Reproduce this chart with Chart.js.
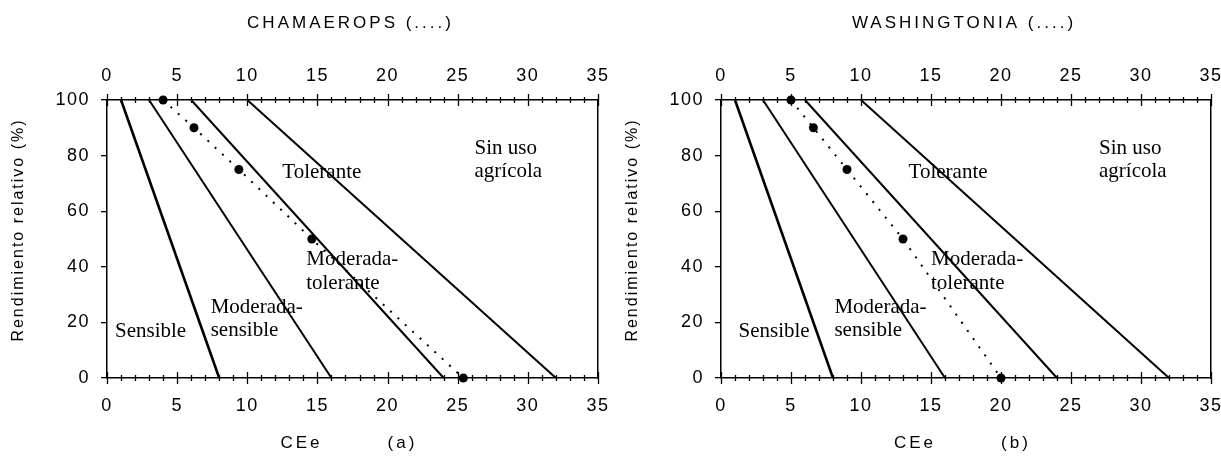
<!DOCTYPE html>
<html lang="es">
<head>
<meta charset="utf-8">
<title>Tolerancia a la salinidad</title>
<script src="https://cdn.jsdelivr.net/npm/chart.js@4.4.1/dist/chart.umd.min.js"></script>
<style>
  html, body { margin: 0; padding: 0; background: #fff; overflow: hidden; }
  .panel { position: absolute; top: 0; height: 459px; }
  #panelA { left: 0; width: 610px; }
  #panelB { left: 614px; width: 607px; }
</style>
</head>
<body>
<div class="panel" id="panelA"><canvas id="graficoA" width="610" height="459"></canvas></div>
<div class="panel" id="panelB"><canvas id="graficoB" width="607" height="459"></canvas></div>
<script>
// Rectas de Maas-Hoffman: CEe con 100 % y con 0 % de rendimiento
const clases = ['Sensible', 'Moderada-sensible', 'Moderada-tolerante', 'Tolerante'];
const ceeUmbral = [1, 3, 6, 10];
const ceeCero = [8, 16, 24, 32];

// Rendimiento relativo y CEe estimada para cada especie
const rendimiento = [100, 90, 75, 50, 0];
const ceeChamaerops = [4, 6.2, 9.4, 14.6, 25.4];
const ceeWashingtonia = [5, 6.6, 9, 13, 20];

const ticksCEe = [0, 5, 10, 15, 20, 25, 30, 35];
const ticksRend = [0, 20, 40, 60, 80, 100];

// Rótulos de cada zona (en unidades de CEe y de rendimiento)
const rotulosA = [
  { texto: ['Sensible'], x: 0.57, y: 14.9 },
  { texto: ['Moderada-', 'sensible'], x: 7.39, y: 23.5 },
  { texto: ['Moderada-', 'tolerante'], x: 14.2, y: 40.6 },
  { texto: ['Tolerante'], x: 12.5, y: 71.8 },
  { texto: ['Sin uso', 'agrícola'], x: 26.2, y: 80.6 }
];
const rotulosB = [
  { texto: ['Sensible'], x: 1.25, y: 14.9 },
  { texto: ['Moderada-', 'sensible'], x: 8.1, y: 23.5 },
  { texto: ['Moderada-', 'tolerante'], x: 15.0, y: 40.6 },
  { texto: ['Tolerante'], x: 13.4, y: 71.8 },
  { texto: ['Sin uso', 'agrícola'], x: 27.0, y: 80.6 }
];

Chart.defaults.font.family = '"Liberation Sans", Arial, sans-serif';
Chart.defaults.font.size = 18;
Chart.defaults.color = '#000';

// Marco, marcas de los ejes y textos
const marcoPlugin = {
  id: 'marco',
  beforeDraw(chart) {
    chart.ctx.letterSpacing = '1.5px';
  },
  afterDraw(chart, args, opts) {
    const { ctx, chartArea, scales } = chart;
    const xs = scales.x, ys = scales.y;
    ctx.save();
    ctx.strokeStyle = '#000';
    ctx.lineWidth = 1.3;
    for (let v = 0; v <= 35; v++) {
      const px = Math.round(xs.getPixelForValue(v)) + 0.5;
      const l = v % 5 === 0 ? 6 : 3;
      [chartArea.top, chartArea.bottom].forEach(py => {
        ctx.beginPath();
        ctx.moveTo(px, py - l);
        ctx.lineTo(px, py + l);
        ctx.stroke();
      });
    }

    // zonas de tolerancia
    ctx.letterSpacing = '0px';
    ctx.fillStyle = '#000';
    ctx.font = '21px "Liberation Serif", "Times New Roman", serif';
    ctx.textAlign = 'left';
    ctx.textBaseline = 'alphabetic';
    opts.rotulos.forEach(r => {
      const px = xs.getPixelForValue(r.x);
      const py = ys.getPixelForValue(r.y);
      r.texto.forEach((t, i) => ctx.fillText(t, px, py + i * 23.5));
    });

    // títulos
    const cx = (chartArea.left + chartArea.right) / 2;
    ctx.letterSpacing = '3px';
    ctx.font = '17px "Liberation Sans", Arial, sans-serif';
    ctx.textAlign = 'center';
    ctx.textBaseline = 'middle';
    ctx.fillText(opts.titulo, cx - 2, 23);
    ctx.fillText('CEe', cx - 51, 443);
    ctx.fillText(opts.letra, cx + 50, 443);

    ctx.letterSpacing = '2px';
    ctx.font = '16px "Liberation Sans", Arial, sans-serif';
    ctx.translate(19, 230);
    ctx.rotate(-Math.PI / 2);
    ctx.fillText('Rendimiento relativo (%)', 0, 0);
    ctx.restore();
  }
};

function ejeX(posicion, alto, separacion) {
  return {
    type: 'linear',
    position: posicion,
    min: 0,
    max: 35,
    afterBuildTicks: s => { s.ticks = ticksCEe.map(v => ({ value: v })); },
    afterFit: s => {
      s.height = alto;
      s.paddingLeft = 0;
      s.paddingRight = 0;
    },
    ticks: { padding: separacion },
    grid: { display: true, drawOnChartArea: false, drawTicks: false },
    border: { display: true, color: '#000', width: 1.5 }
  };
}

function crearGrafico(id, ceeEspecie, titulo, letra, rotulos, anchoDerecho) {
  const rectas = ceeUmbral.map((u, i) => ({
    label: clases[i],
    data: [{ x: u, y: 100 }, { x: ceeCero[i], y: 0 }],
    showLine: true,
    borderColor: '#000',
    borderWidth: i === 0 ? 2.6 : 2,
    pointRadius: 0,
    clip: false
  }));

  const especie = {
    label: titulo,
    data: ceeEspecie.map((c, i) => ({ x: c, y: rendimiento[i] })),
    showLine: true,
    borderColor: '#000',
    borderWidth: 2,
    borderDash: [2, 8],
    pointRadius: 4.5,
    pointBackgroundColor: '#000',
    pointBorderWidth: 0,
    clip: false
  };

  return new Chart(document.getElementById(id), {
    type: 'scatter',
    data: { datasets: [...rectas, especie] },
    options: {
      responsive: false,
      animation: false,
      layout: { padding: 0 },
      plugins: {
        legend: { display: false },
        tooltip: { enabled: false },
        marco: { titulo: titulo, letra: letra, rotulos: rotulos }
      },
      scales: {
        x: ejeX('bottom', 81, 17),
        x2: ejeX('top', 100, 13),
        y: {
          type: 'linear',
          position: 'left',
          min: 0,
          max: 100,
          afterBuildTicks: s => { s.ticks = ticksRend.map(v => ({ value: v })); },
          afterFit: s => {
            s.width = 107;
            s.paddingTop = 0;
            s.paddingBottom = 0;
          },
          ticks: { padding: 11 },
          grid: { drawOnChartArea: false, drawTicks: true, tickLength: 6, color: '#000', lineWidth: 1.3 },
          border: { display: true, color: '#000', width: 1.5 }
        },
        y2: {
          type: 'linear',
          position: 'right',
          min: 0,
          max: 100,
          afterFit: s => {
            s.width = anchoDerecho;
            s.paddingTop = 0;
            s.paddingBottom = 0;
          },
          ticks: { display: false },
          grid: { display: false },
          border: { display: true, color: '#000', width: 1.5 }
        }
      }
    },
    plugins: [marcoPlugin]
  });
}

crearGrafico('graficoA', ceeChamaerops, 'CHAMAEROPS (....)', '(a)', rotulosA, 12);
crearGrafico('graficoB', ceeWashingtonia, 'WASHINGTONIA (....)', '(b)', rotulosB, 10);
</script>
</body>
</html>
